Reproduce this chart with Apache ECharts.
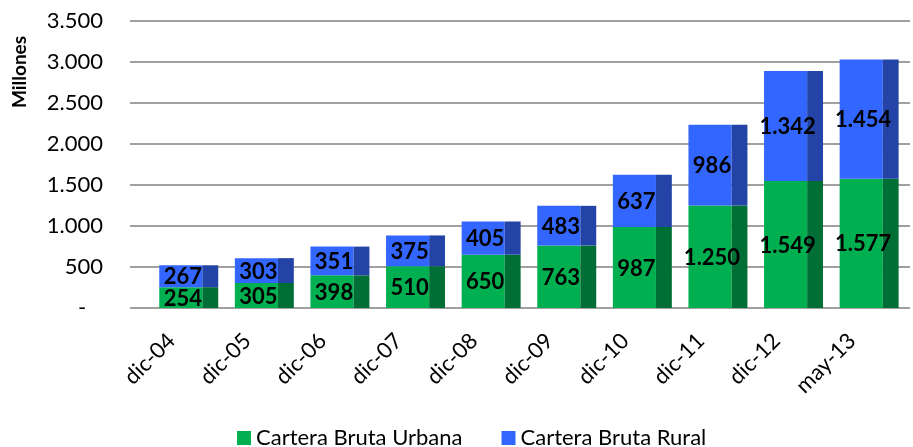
<!DOCTYPE html>
<html>
<head>
<meta charset="utf-8">
<script src="https://cdn.jsdelivr.net/npm/echarts@6/dist/echarts.min.js"></script>
<style>html,body{margin:0;padding:0;background:#fff}#c{width:913px;height:447px}</style>
</head>
<body>
<div id="c"></div>
<script>
const categories = ['dic-04','dic-05','dic-06','dic-07','dic-08','dic-09','dic-10','dic-11','dic-12','may-13'];
const urbana = [254,305,398,510,650,763,987,1250,1549,1577];
const rural = [267,303,351,375,405,483,637,986,1342,1454];
const seriesNames = ['Cartera Bruta Urbana','Cartera Bruta Rural'];
const yMin = 0, yMax = 3500, yStep = 500;

const FONT = 'Lato, "Open Sans", sans-serif';
function fmt(v){
  if (v === 0) return '-   ';
  return String(Math.round(v)).replace(/\B(?=(\d{3})+(?!\d))/g, '.');
}
const colors = [
  {front:'#00B050', side:'#006F35'},
  {front:'#3366FF', side:'#2343A6'}
];
function makeData(vals, bases){
  return vals.map((v,i)=>[i, bases[i], bases[i]+v, v]);
}
const urbanData = makeData(urbana, urbana.map(()=>0));
const ruralData = makeData(rural, urbana);

function render(ci){
  return function(params, api){
    const idx = api.value(0), base = api.value(1), top = api.value(2), v = api.value(3);
    const p0 = api.coord([idx, base]);
    const p1 = api.coord([idx, top]);
    const band = api.size([1,0])[0];
    const fw = band*0.57, sw = band*0.21;
    const x0 = p0[0] - fw/2;
    const h = p0[1]-p1[1];
    return {type:'group', children:[
      {type:'rect', shape:{x:x0, y:p1[1], width:fw, height:h}, style:{fill:colors[ci].front}},
      {type:'rect', shape:{x:x0+fw, y:p1[1], width:sw, height:h}, style:{fill:colors[ci].side}},
      {type:'text', z2:10, style:{text:fmt(v), x:p0[0]+2, y:(p0[1]+p1[1])/2+1, align:'center', verticalAlign:'middle',
        fontFamily:FONT, fontWeight:'bold', fontSize:22, fill:'#000'}}
    ]};
  };
}

const chart = echarts.init(document.getElementById('c'));
chart.setOption({
  animation:false,
  backgroundColor:'#fff',
  textStyle:{fontFamily:FONT},
  grid:[
    {left:130, right:3, top:21, bottom:139},
    {left:143, right:14, top:21, bottom:139}
  ],
  legend:{
    left:232, top:422, itemWidth:14, itemHeight:14, itemGap:39, icon:'rect',
    textStyle:{fontFamily:FONT, fontSize:22, color:'#000'},
    data:seriesNames
  },
  graphic:[{
    type:'text', x:20, y:72, rotation:Math.PI/2,
    style:{text:'Millones', fontFamily:FONT, fontWeight:'bold', fontSize:19, fill:'#000', align:'center', verticalAlign:'middle'}
  }],
  xAxis:[
    {gridIndex:0, type:'category', data:[''], show:false},
    {gridIndex:1, type:'category', data:categories,
      axisLine:{show:false}, axisTick:{show:false},
      axisLabel:{rotate:45, fontFamily:FONT, fontSize:22, color:'#000', margin:20, interval:0, padding:[0,13,0,0]}}
  ],
  yAxis:[
    {gridIndex:0, type:'value', min:yMin, max:yMax, interval:yStep,
      axisLine:{show:false}, axisTick:{show:false},
      axisLabel:{fontFamily:FONT, fontSize:22, color:'#000', margin:27, formatter:fmt},
      splitLine:{lineStyle:{color:'#A0A0A0', width:2}}},
    {gridIndex:1, type:'value', min:yMin, max:yMax, interval:yStep, show:false, splitLine:{show:false}}
  ],
  series:[
    {name:seriesNames[0], type:'custom', xAxisIndex:1, yAxisIndex:1, renderItem:render(0),
      itemStyle:{color:colors[0].front}, encode:{x:0, y:[1,2]}, data:urbanData},
    {name:seriesNames[1], type:'custom', xAxisIndex:1, yAxisIndex:1, renderItem:render(1),
      itemStyle:{color:colors[1].front}, encode:{x:0, y:[1,2]}, data:ruralData}
  ]
});
</script>
</body>
</html>
